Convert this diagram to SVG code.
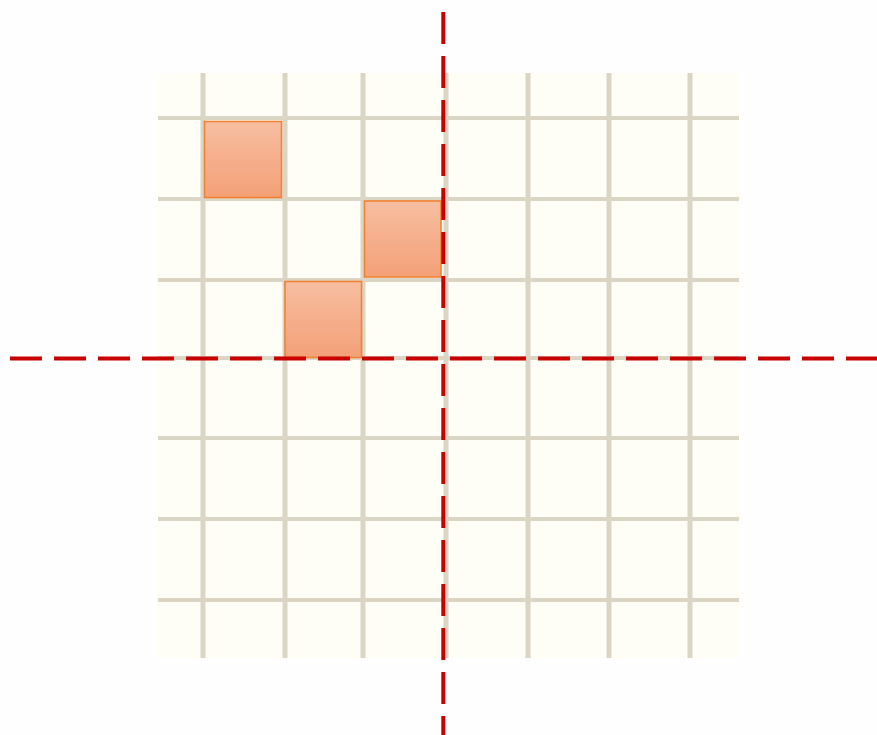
<svg xmlns="http://www.w3.org/2000/svg" width="877" height="735" viewBox="0 0 877 735">
<style>
.vl{stroke:#dbd5c5;stroke-width:5}
.hl{stroke:#dbd5c5;stroke-width:4}
.sq{fill:url(#g);stroke:#f08232;stroke-width:1.6}
.axis{stroke:#c80000;stroke-width:4;stroke-dasharray:32 12;fill:none}
</style>
<defs>
<linearGradient id="g" x1="0" y1="0" x2="0" y2="1">
<stop offset="0" stop-color="#f7bea1"/>
<stop offset="1" stop-color="#f3a077"/>
</linearGradient>
</defs>
<rect width="877" height="735" fill="#fefefe"/>
<g id="grid">
<rect x="158" y="73" width="581" height="585" fill="#fefdf6"/>
<line class="vl" x1="203" y1="73" x2="203" y2="658"/>
<line class="vl" x1="285" y1="73" x2="285" y2="658"/>
<line class="vl" x1="363" y1="73" x2="363" y2="658"/>
<line class="vl" x1="446" y1="73" x2="446" y2="658"/>
<line class="vl" x1="528" y1="73" x2="528" y2="658"/>
<line class="vl" x1="609" y1="73" x2="609" y2="658"/>
<line class="vl" x1="690" y1="73" x2="690" y2="658"/>
<line class="hl" x1="158" y1="118" x2="739" y2="118"/>
<line class="hl" x1="158" y1="199" x2="739" y2="199"/>
<line class="hl" x1="158" y1="280" x2="739" y2="280"/>
<line class="hl" x1="158" y1="358" x2="739" y2="358"/>
<line class="hl" x1="158" y1="438" x2="739" y2="438"/>
<line class="hl" x1="158" y1="519" x2="739" y2="519"/>
<line class="hl" x1="158" y1="600" x2="739" y2="600"/>
</g>
<g id="sq1"><rect class="sq" x="204.5" y="121.5" width="77" height="76"/></g>
<g id="sq2"><rect class="sq" x="364.5" y="201" width="76.5" height="76"/></g>
<g id="sq3"><rect class="sq" x="285" y="281.5" width="76.5" height="76"/></g>
<g id="axes">
<line class="axis" x1="10" y1="358.5" x2="877" y2="358.5"/>
<line class="axis" x1="443.3" y1="12" x2="443.3" y2="735"/>
</g>
</svg>
